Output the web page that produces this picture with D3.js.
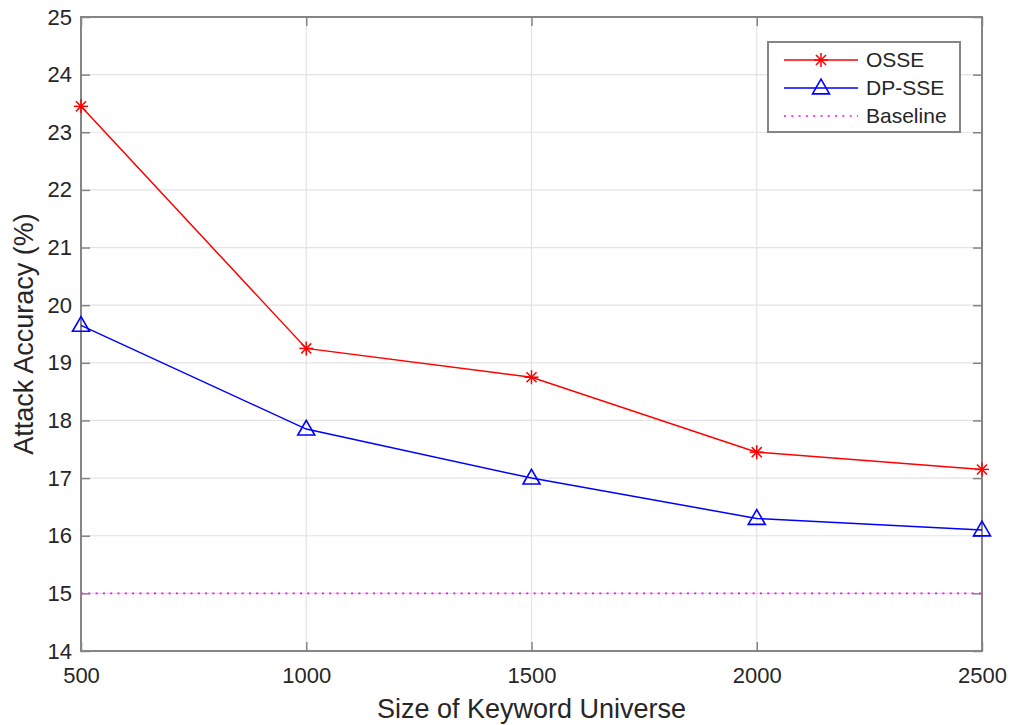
<!DOCTYPE html>
<html>
<head>
<meta charset="utf-8">
<script src="https://cdn.jsdelivr.net/npm/d3@7"></script>
<style>
  body { margin: 0; background: #fff; }
  text { font-family: "Liberation Sans", Arial, sans-serif; fill: #262626; }
</style>
</head>
<body>
<svg id="chart" width="1012" height="725"></svg>
<script>
const sizes = [500, 1000, 1500, 2000, 2500];
const osse = [23.45, 19.25, 18.75, 17.45, 17.15];
const dpsse = [19.65, 17.85, 17.0, 16.3, 16.1];
const baseline = 15;
const yTicks = [14, 15, 16, 17, 18, 19, 20, 21, 22, 23, 24, 25];
const xTicks = [500, 1000, 1500, 2000, 2500];

const width = 1012, height = 725;
const margin = {left: 81, top: 17, right: width - 982, bottom: height - 651};

const x = d3.scaleLinear().domain([500, 2500]).range([margin.left, width - margin.right]);
const y = d3.scaleLinear().domain([14, 25]).range([height - margin.bottom, margin.top]);

const svg = d3.select('#chart');

// grid
svg.append('g')
  .selectAll('line')
  .data(xTicks)
  .enter()
  .append('line')
  .attr('x1', d => x(d)).attr('x2', d => x(d))
  .attr('y1', y(14)).attr('y2', y(25))
  .attr('stroke', '#e3e3e3').attr('stroke-width', 1.2);
svg.append('g')
  .selectAll('line')
  .data(yTicks)
  .enter()
  .append('line')
  .attr('x1', x(500)).attr('x2', x(2500))
  .attr('y1', d => y(d)).attr('y2', d => y(d))
  .attr('stroke', '#e3e3e3').attr('stroke-width', 1.2);

// baseline
svg.append('line')
  .attr('x1', x(500)).attr('x2', x(2500))
  .attr('y1', y(baseline)).attr('y2', y(baseline))
  .attr('stroke', '#ff00ff').attr('stroke-width', 1.6)
  .attr('stroke-dasharray', '2,5.3');

const axisColor = '#858585';
const tickLen = 9;

const yAxis = svg.append('g')
  .attr('transform', `translate(${margin.left},0)`)
  .call(d3.axisLeft(y).tickValues(yTicks).tickSize(-tickLen).tickPadding(9).tickFormat(d3.format('d')));
const yAxisR = svg.append('g')
  .attr('transform', `translate(${width - margin.right},0)`)
  .call(d3.axisRight(y).tickValues(yTicks).tickSize(-tickLen).tickFormat(''));
const xAxis = svg.append('g')
  .attr('transform', `translate(0,${height - margin.bottom})`)
  .call(d3.axisBottom(x).tickValues(xTicks).tickSize(-tickLen).tickPadding(16).tickFormat(d3.format('d')));
const xAxisT = svg.append('g')
  .attr('transform', `translate(0,${margin.top})`)
  .call(d3.axisTop(x).tickValues(xTicks).tickSize(-tickLen).tickFormat(''));

[yAxis, yAxisR, xAxis, xAxisT].forEach(a => {
  a.select('.domain').remove();
  a.selectAll('.tick line').attr('stroke', axisColor).attr('stroke-width', 1.5);
  a.selectAll('.tick text')
    .style('font-family', '"Liberation Sans", Arial, sans-serif')
    .style('font-size', '22px')
    .attr('fill', '#262626');
});

svg.append('rect')
  .attr('x', x(500)).attr('y', y(25))
  .attr('width', x(2500) - x(500)).attr('height', y(14) - y(25))
  .attr('fill', 'none').attr('stroke', axisColor).attr('stroke-width', 2);

// lines
const line = d3.line().x((d, i) => x(sizes[i])).y(d => y(d));

svg.append('path').datum(osse)
  .attr('d', line).attr('fill', 'none').attr('stroke', '#ff0000').attr('stroke-width', 1.5);
svg.append('path').datum(dpsse)
  .attr('d', line).attr('fill', 'none').attr('stroke', '#0000ff').attr('stroke-width', 1.5);

const star = (g, cx, cy) => {
  const r = 7;
  const s = g.append('g').attr('transform', `translate(${cx},${cy})`)
    .attr('stroke', '#ff0000').attr('stroke-width', 1.5);
  s.append('line').attr('x1', -r).attr('x2', r).attr('y1', 0).attr('y2', 0);
  s.append('line').attr('x1', 0).attr('x2', 0).attr('y1', -r).attr('y2', r);
  const k = r * 0.72;
  s.append('line').attr('x1', -k).attr('x2', k).attr('y1', -k).attr('y2', k);
  s.append('line').attr('x1', -k).attr('x2', k).attr('y1', k).attr('y2', -k);
};
const tri = (g, cx, cy) => {
  g.append('path')
    .attr('d', d3.symbol().type(d3.symbolTriangle).size(125)())
    .attr('transform', `translate(${cx},${cy + 1})`)
    .attr('fill', 'none').attr('stroke', '#0000ff').attr('stroke-width', 1.6);
};

const markers = svg.append('g');
osse.forEach((v, i) => star(markers, x(sizes[i]), y(v)));
dpsse.forEach((v, i) => tri(markers, x(sizes[i]), y(v)));

// axis titles
svg.append('text')
  .attr('x', (x(500) + x(2500)) / 2).attr('y', 718)
  .attr('text-anchor', 'middle')
  .style('font-size', '27px')
  .text('Size of Keyword Universe');
svg.append('text')
  .attr('transform', `translate(33,${(y(14) + y(25)) / 2}) rotate(-90)`)
  .attr('text-anchor', 'middle')
  .style('font-size', '27px')
  .text('Attack Accuracy (%)');

// legend
const legend = svg.append('g');
legend.append('rect')
  .attr('x', 768).attr('y', 42).attr('width', 192).attr('height', 90)
  .attr('fill', '#fff').attr('stroke', axisColor).attr('stroke-width', 2);
const rows = [
  {name: 'OSSE', color: '#ff0000', kind: 'star'},
  {name: 'DP-SSE', color: '#0000ff', kind: 'tri'},
  {name: 'Baseline', color: '#ff00ff', kind: 'dot'}
];
rows.forEach((r, i) => {
  const ry = 60 + i * 28;
  legend.append('line')
    .attr('x1', 784).attr('x2', 858).attr('y1', ry).attr('y2', ry)
    .attr('stroke', r.color).attr('stroke-width', 1.5)
    .attr('stroke-dasharray', r.kind === 'dot' ? '2,5.3' : null);
  if (r.kind === 'star') star(legend, 821, ry);
  if (r.kind === 'tri') tri(legend, 821, ry);
  legend.append('text')
    .attr('x', 866).attr('y', ry).attr('dy', '0.35em')
    .style('font-size', '21px')
    .text(r.name);
});
</script>
</body>
</html>
